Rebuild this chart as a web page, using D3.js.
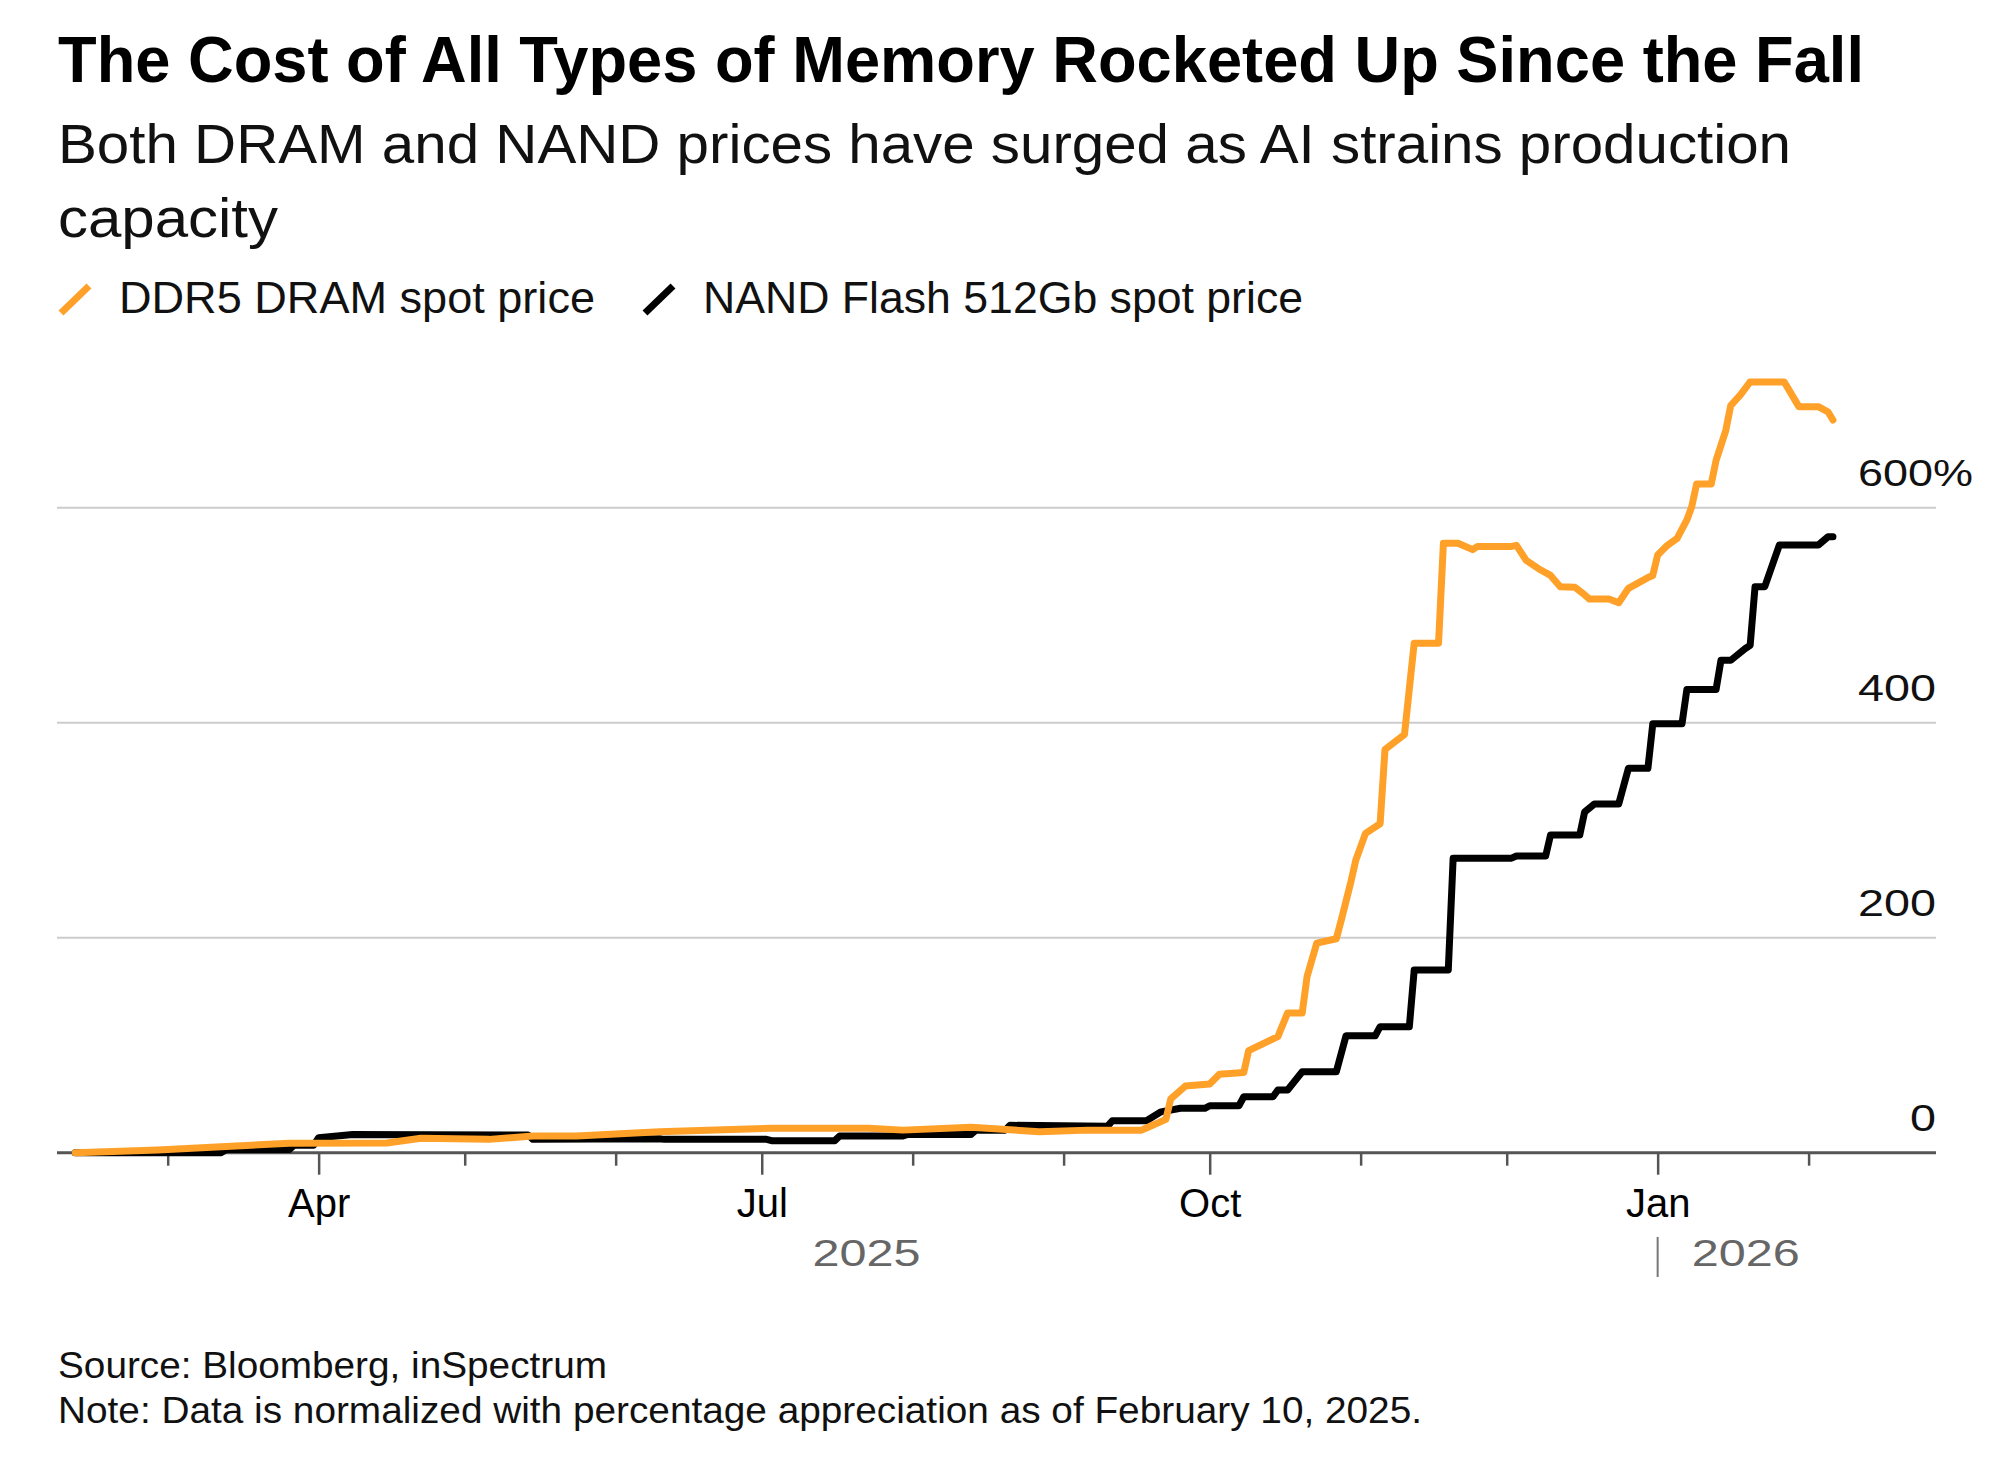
<!DOCTYPE html>
<html lang="en">
<head>
  <meta charset="UTF-8" />
  <title>The Cost of All Types of Memory Rocketed Up Since the Fall</title>
  <script src="https://d3js.org/d3.v7.min.js"></script>
  <style>
    body { margin: 0; background: #fff; }
    svg { display: block; }
    text { font-family: "Liberation Sans", Arial, sans-serif; }
  </style>
</head>
<body>
  <svg width="2000" height="1471"></svg>
  <script>
    // DDR5 DRAM spot price, % change since Feb 10, 2025
    const dramDates = [
      "2025-02-10", "2025-02-27", "2025-03-12", "2025-03-26", "2025-04-15", "2025-04-22",
      "2025-05-06", "2025-05-15", "2025-05-24", "2025-06-10", "2025-07-03", "2025-07-23",
      "2025-07-30", "2025-08-13", "2025-08-27", "2025-09-06", "2025-09-17", "2025-09-18",
      "2025-09-22", "2025-09-23", "2025-09-26", "2025-10-01", "2025-10-03", "2025-10-08",
      "2025-10-09", "2025-10-15", "2025-10-17", "2025-10-20", "2025-10-21", "2025-10-23",
      "2025-10-27", "2025-10-28", "2025-10-30", "2025-10-31", "2025-11-02", "2025-11-05",
      "2025-11-06", "2025-11-10", "2025-11-12", "2025-11-17", "2025-11-18", "2025-11-21",
      "2025-11-24", "2025-11-25", "2025-12-02", "2025-12-03", "2025-12-05", "2025-12-08",
      "2025-12-10", "2025-12-12", "2025-12-15", "2025-12-17", "2025-12-18", "2025-12-22",
      "2025-12-24", "2025-12-26", "2025-12-30", "2025-12-31", "2026-01-01", "2026-01-03",
      "2026-01-05", "2026-01-07", "2026-01-08", "2026-01-09", "2026-01-12", "2026-01-13",
      "2026-01-15", "2026-01-16", "2026-01-18", "2026-01-20", "2026-01-27", "2026-01-30",
      "2026-02-03", "2026-02-05", "2026-02-06"
    ];
    const dramValues = [
      0, 2.5, 5.6, 8.7, 9, 13.4,
      12.4, 15.5, 15.5, 19.5, 22.7, 22.7,
      21, 23.6, 19.5, 21, 21, 23,
      31, 50, 62, 64, 73, 74.5,
      95, 108, 130, 130, 164, 195,
      199, 216, 252, 272, 297, 306,
      375, 389, 474, 474, 567, 567,
      561, 564, 564, 565, 551, 542,
      537, 526.5, 526, 519, 515, 515,
      511.6, 525, 535, 537, 556, 565,
      571.5, 588.6, 601, 622, 622, 644,
      672, 695, 705, 717, 717, 694,
      694, 689, 681.6
    ];

    // NAND Flash 512Gb spot price, % change since Feb 10, 2025
    const nandDates = [
      "2025-02-10", "2025-03-12", "2025-03-13", "2025-03-26", "2025-03-27", "2025-03-31",
      "2025-04-01", "2025-04-08", "2025-05-14", "2025-05-15", "2025-06-10", "2025-06-11",
      "2025-07-02", "2025-07-03", "2025-07-16", "2025-07-17", "2025-07-30", "2025-07-31",
      "2025-08-13", "2025-08-14", "2025-08-20", "2025-08-21", "2025-09-10", "2025-09-11",
      "2025-09-18", "2025-09-21", "2025-09-25", "2025-09-30", "2025-10-01", "2025-10-07",
      "2025-10-08", "2025-10-14", "2025-10-15", "2025-10-17", "2025-10-20", "2025-10-27",
      "2025-10-29", "2025-11-04", "2025-11-05", "2025-11-11", "2025-11-12", "2025-11-19",
      "2025-11-20", "2025-12-02", "2025-12-03", "2025-12-09", "2025-12-10", "2025-12-16",
      "2025-12-17", "2025-12-19", "2025-12-24", "2025-12-26", "2025-12-30", "2025-12-31",
      "2026-01-06", "2026-01-07", "2026-01-13", "2026-01-14", "2026-01-16", "2026-01-19",
      "2026-01-20", "2026-01-21", "2026-01-23", "2026-01-26", "2026-02-03", "2026-02-05",
      "2026-02-06"
    ];
    const nandValues = [
      0, 0, 3, 3, 7, 7,
      14, 17, 16.5, 12.5, 13, 12.4,
      12.4, 11.2, 11.2, 15.5, 15.5, 17,
      17, 21, 21, 25.5, 24.5, 29.8,
      29.8, 38, 41.3, 41.3, 43.7, 43.7,
      52, 52, 58.3, 58.3, 75.3, 75.3,
      108.8, 108.8, 117.2, 117.2, 170, 170,
      274, 274, 276, 276, 295.5, 295.5,
      317, 324.4, 324.4, 357.6, 357.6, 399,
      399, 431, 431, 458, 458, 469,
      472, 526.5, 526.5, 565.3, 565.3, 573,
      573
    ];

    const monthTicks = [
      "2025-03-01", "2025-04-01", "2025-05-01", "2025-06-01", "2025-07-01", "2025-08-01",
      "2025-09-01", "2025-10-01", "2025-11-01", "2025-12-01", "2026-01-01", "2026-02-01"
    ];
    const monthLabels = ["", "Apr", "", "", "Jul", "", "", "Oct", "", "", "Jan", ""];
    const yTicks = [0, 200, 400, 600];
    const yLabels = ["0", "200", "400", "600"];
    const yearLabels = ["2025", "2026"];

    const svg = d3.select("svg");
    const parse = d3.utcParse("%Y-%m-%d");

    const left = 57, right = 1936;
    const x = d3.scaleUtc()
      .domain([parse("2025-03-01"), parse("2026-02-01")])
      .range([167.7, 1808.6]);
    const y = d3.scaleLinear()
      .domain([0, 600])
      .range([1152.7, 507.7]);

    // squeeze or stretch a text to the width it has in the picture
    function fit(sel, w) {
      sel.each(function () {
        const n = this.getComputedTextLength();
        if (Math.abs(n - w) > w * 0.01) {
          d3.select(this).attr("textLength", w).attr("lengthAdjust", "spacingAndGlyphs");
        }
      });
    }

    // header
    svg.append("text")
      .attr("x", 58).attr("y", 82)
      .attr("font-size", 65).attr("font-weight", "bold").attr("fill", "#000")
      .text("The Cost of All Types of Memory Rocketed Up Since the Fall")
      .call(fit, 1806);

    svg.append("text")
      .attr("x", 58).attr("y", 163)
      .attr("font-size", 56).attr("fill", "#111")
      .text("Both DRAM and NAND prices have surged as AI strains production")
      .call(fit, 1733);

    svg.append("text")
      .attr("x", 58).attr("y", 237)
      .attr("font-size", 56).attr("fill", "#111")
      .text("capacity")
      .call(fit, 220);

    // legend
    const legend = [
      { name: "DDR5 DRAM spot price", color: "#ffa028", x: 58, w: 476 },
      { name: "NAND Flash 512Gb spot price", color: "#000", x: 642, w: 600 }
    ];
    const lg = svg.append("g");
    lg.selectAll("line")
      .data(legend)
      .join("line")
      .attr("x1", d => d.x + 3).attr("y1", 313)
      .attr("x2", d => d.x + 31).attr("y2", 286)
      .attr("stroke", d => d.color)
      .attr("stroke-width", 7);
    lg.selectAll("text")
      .data(legend)
      .join("text")
      .attr("x", d => d.x + 61).attr("y", 313)
      .attr("font-size", 44).attr("fill", "#111")
      .text(d => d.name)
      .each(function (d) { d3.select(this).call(fit, d.w); });

    // gridlines
    svg.append("g")
      .selectAll("line")
      .data(yTicks.filter(d => d > 0))
      .join("line")
      .attr("x1", left).attr("x2", right)
      .attr("y1", d => y(d)).attr("y2", d => y(d))
      .attr("stroke", "#cccccc")
      .attr("stroke-width", 2);

    // y labels: digits end at the right edge, the top one carries a "%" past it
    const yTop = d3.max(yTicks);
    svg.append("g")
      .selectAll("text")
      .data(yTicks)
      .join("text")
      .attr("x", (d, i) => right - 26 * yLabels[i].length)
      .attr("y", d => y(d) - 22)
      .attr("font-size", 36).attr("fill", "#111")
      .text((d, i) => yLabels[i] + (d === yTop ? "%" : ""))
      .each(function (d, i) {
        d3.select(this).call(fit, 26 * yLabels[i].length + (d === yTop ? 37 : 0));
      });

    // x axis
    const axis = d3.axisBottom(x)
      .tickValues(monthTicks.map(parse))
      .tickSize(13)
      .tickSizeOuter(0)
      .tickFormat((d, i) => monthLabels[i]);

    const gx = svg.append("g")
      .attr("transform", `translate(0,${y(0)})`)
      .call(axis);
    gx.select(".domain").remove();
    gx.selectAll(".tick line")
      .attr("stroke", "#555")
      .attr("stroke-width", 2.5)
      .attr("y2", (d, i) => monthLabels[i] ? 22 : 13);
    gx.selectAll(".tick text")
      .attr("y", 64).attr("dy", 0)
      .attr("font-size", 40)
      .attr("font-family", "Liberation Sans, Arial, sans-serif")
      .attr("fill", "#000");

    svg.append("line")
      .attr("x1", left).attr("x2", right)
      .attr("y1", y(0)).attr("y2", y(0))
      .attr("stroke", "#555")
      .attr("stroke-width", 3);

    // year labels
    const yearStart = x(parse("2026-01-01"));
    svg.append("text")
      .attr("x", (x(parse(dramDates[0])) + yearStart) / 2).attr("y", 1266)
      .attr("text-anchor", "middle")
      .attr("font-size", 36).attr("fill", "#666")
      .text(yearLabels[0])
      .call(fit, 108);
    svg.append("line")
      .attr("x1", yearStart).attr("x2", yearStart)
      .attr("y1", 1237).attr("y2", 1277)
      .attr("stroke", "#777")
      .attr("stroke-width", 2);
    svg.append("text")
      .attr("x", yearStart + 34).attr("y", 1266)
      .attr("font-size", 36).attr("fill", "#666")
      .text(yearLabels[1])
      .call(fit, 108);

    // lines
    const line = d3.line()
      .x(d => x(d.date))
      .y(d => y(d.value));

    const nand = nandDates.map((d, i) => ({ date: parse(d), value: nandValues[i] }));
    const dram = dramDates.map((d, i) => ({ date: parse(d), value: dramValues[i] }));

    svg.append("path")
      .datum(nand)
      .attr("d", line)
      .attr("fill", "none")
      .attr("stroke", "#000")
      .attr("stroke-width", 7)
      .attr("stroke-linejoin", "round")
      .attr("stroke-linecap", "round");

    svg.append("path")
      .datum(dram)
      .attr("d", line)
      .attr("fill", "none")
      .attr("stroke", "#ffa028")
      .attr("stroke-width", 7)
      .attr("stroke-linejoin", "round")
      .attr("stroke-linecap", "round");

    // footer
    svg.append("text")
      .attr("x", 58).attr("y", 1378)
      .attr("font-size", 36).attr("fill", "#111")
      .text("Source: Bloomberg, inSpectrum")
      .call(fit, 549);
    svg.append("text")
      .attr("x", 58).attr("y", 1423)
      .attr("font-size", 36).attr("fill", "#111")
      .text("Note: Data is normalized with percentage appreciation as of February 10, 2025.")
      .call(fit, 1364);
  </script>
</body>
</html>
